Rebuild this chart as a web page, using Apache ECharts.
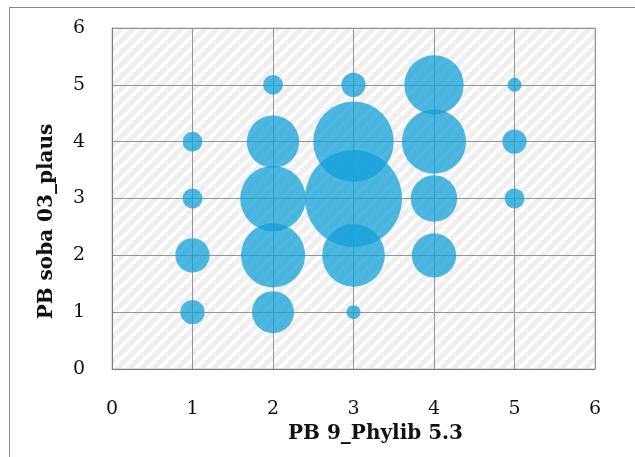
<!DOCTYPE html>
<html>
<head>
<meta charset="utf-8">
<script src="https://cdn.jsdelivr.net/npm/echarts@6/dist/echarts.min.js"></script>
<style>
html,body{margin:0;padding:0;background:#fff;}
#frame{position:absolute;left:9px;top:7px;width:640px;height:460px;border:1px solid #888;box-sizing:border-box;}
#c{position:absolute;left:0;top:0;width:635px;height:457px;}
</style>
</head>
<body>
<div id="frame"></div>
<div id="c"></div>
<script>
// Data: x (PB 9_Phylib 5.3), y (PB soba 03_plaus), count (bubble size)
const xVals = [1, 1, 1, 1, 2, 2, 2, 2, 2, 3, 3, 3, 3, 3, 4, 4, 4, 4, 5, 5, 5];
const yVals = [1, 2, 3, 4, 1, 2, 3, 4, 5, 1, 2, 4, 3, 5, 2, 3, 4, 5, 3, 4, 5];
const counts = [3, 6, 2, 2, 9, 21, 22, 14, 2, 1, 20, 33, 48, 3, 10, 11, 21, 18, 2, 3, 1];
const xTicks = [0, 1, 2, 3, 4, 5, 6];
const yTicks = [0, 1, 2, 3, 4, 5, 6];

const points = xVals.map((x, i) => [x, yVals[i], counts[i]]);

// hatch pattern
const T = 12;
const pc = document.createElement('canvas');
pc.width = T; pc.height = T;
const g = pc.getContext('2d');
g.fillStyle = '#efefef';
g.fillRect(0, 0, T, T);
g.strokeStyle = '#ffffff';
g.lineWidth = 3.5;
g.beginPath();
for (let k = -2; k <= 2; k++) {
  g.moveTo(k * T - T, 2 * T);
  g.lineTo(k * T + T, 0);
}
g.stroke();

const chart = echarts.init(document.getElementById('c'), null, {renderer: 'canvas'});
const font = 'DejaVu Serif';
chart.setOption({
  animation: false,
  grid: {
    left: 112, right: 40, top: 28, bottom: 88,
    show: true,
    backgroundColor: {image: pc, repeat: 'repeat'},
    borderColor: '#bdbdbd', borderWidth: 1
  },
  xAxis: {
    type: 'value', min: 0, max: 6, interval: 1,
    name: 'PB 9_Phylib 5.3', nameLocation: 'middle', nameGap: 54,
    nameTextStyle: {fontFamily: font, fontWeight: 'bold', fontSize: 20, color: '#111', padding: [0, 0, 0, 44]},
    axisLine: {show: true, lineStyle: {color: '#7a7a7a', width: 1}},
    axisTick: {show: false},
    axisLabel: {fontFamily: font, fontSize: 19, color: '#111', margin: 31,
      formatter: v => xTicks.includes(v) ? String(v) : ''},
    splitLine: {show: true, lineStyle: {color: '#959595', width: 1}}
  },
  yAxis: {
    type: 'value', min: 0, max: 6, interval: 1,
    name: 'PB soba 03_plaus', nameLocation: 'middle', nameGap: 55,
    nameTextStyle: {fontFamily: font, fontWeight: 'bold', fontSize: 20, color: '#111', padding: [0, 46, 0, 0]},
    axisLine: {show: true, lineStyle: {color: '#7a7a7a', width: 1}},
    axisTick: {show: false},
    axisLabel: {fontFamily: font, fontSize: 19, color: '#111', margin: 27,
      formatter: v => yTicks.includes(v) ? String(v) : ''},
    splitLine: {show: true, lineStyle: {color: '#959595', width: 1}}
  },
  series: [{
    type: 'scatter',
    data: points,
    symbolSize: d => 14 * Math.sqrt(d[2]),
    itemStyle: {color: 'rgb(17,160,215)', opacity: 0.75}
  }]
});
</script>
</body>
</html>
